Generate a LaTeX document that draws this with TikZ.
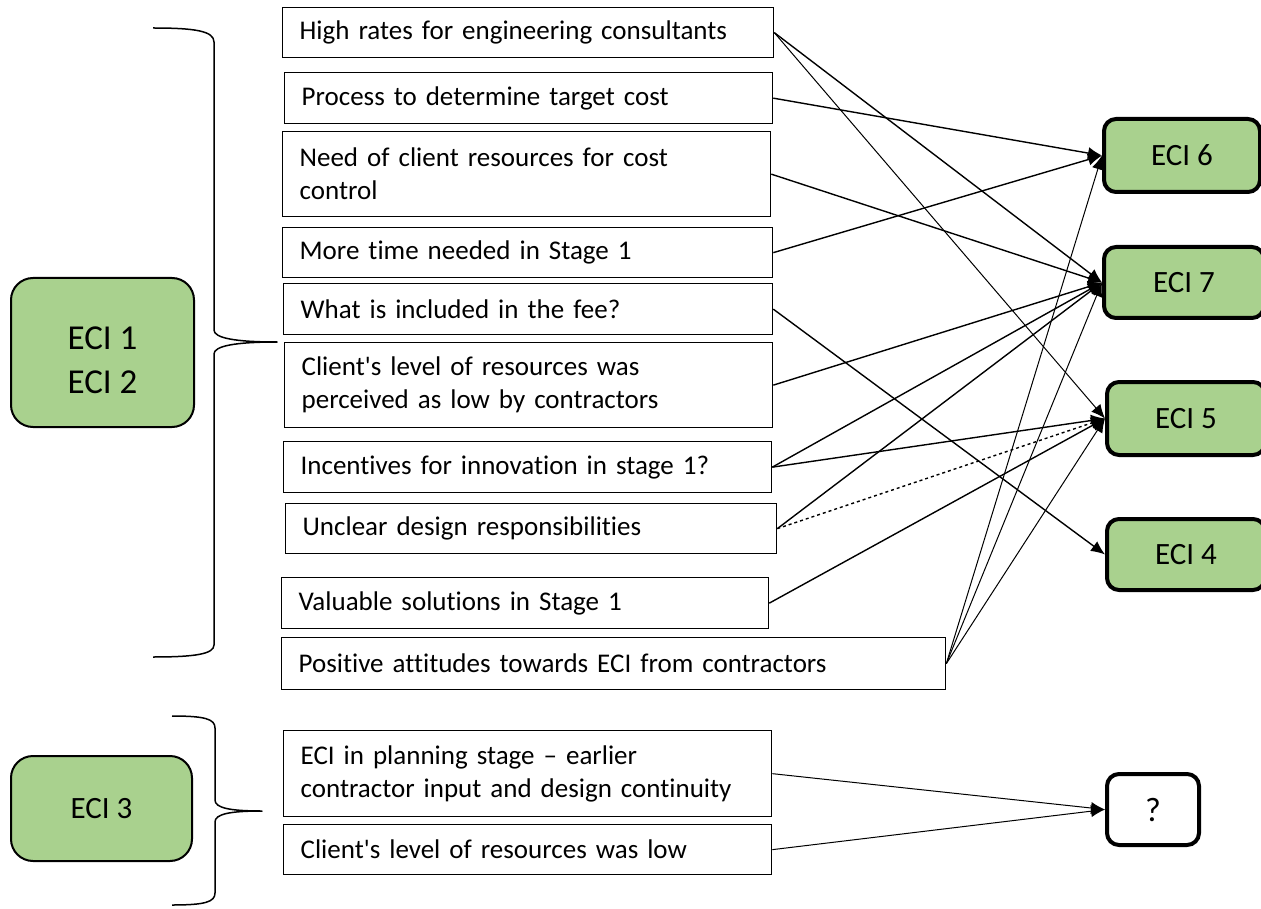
\documentclass[tikz,border=0pt]{standalone}
\usepackage{fontspec}
\setmainfont{Carlito}[Ligatures={TeX,NoCommon}]
\usetikzlibrary{arrows.meta}
\definecolor{ecigreen}{RGB}{169,209,142}
\newcommand\septi{t\kern0pt i}
\tikzset{
  cause/.style={draw,line width=1.3pt,rectangle,anchor=north west,align=left,inner xsep=17pt,inner ysep=0pt,font=\fontsize{27}{33}\selectfont},
  eci/.style={draw,line width=4pt,rounded corners=12pt,fill=ecigreen,anchor=north west,inner sep=0pt,font=\fontsize{31}{38}\selectfont},
  phase/.style={draw,line width=2pt,rounded corners=22pt,fill=ecigreen,anchor=north west,inner sep=0pt,align=center},
  link/.style={->,line width=1.4pt},
  thinlink/.style={->,line width=1pt},
  brace/.style={line width=1.5pt,line join=round}
}

\begin{document}
\begin{tikzpicture}[>={Latex[length=14pt,width=12pt]},x=1pt,y=-1pt]
\useasboundingbox (0,0) rectangle (1261,909);
\node[phase,minimum width=183pt,minimum height=149pt,font=\fontsize{35}{44}\selectfont] (eci12) at (10,277) {\rule{0pt}{38pt}ECI 1\\ECI 2};
\node[phase,minimum width=181pt,minimum height=105pt,font=\fontsize{31}{38}\selectfont] (eci3) at (10,755) {ECI 3};
\draw[brace] (153,28) .. controls (195,28) and (214,31) .. (214,42) -- (214,330) .. controls (214,338) and (235,342) .. (277,342) .. controls (235,342) and (214,346) .. (214,354) -- (214,645) .. controls (214,654) and (195,657) .. (153,657);
\draw[brace] (172,716) .. controls (205,716) and (215,719) .. (215,728) -- (215,800) .. controls (215,808) and (230,811) .. (262,811) .. controls (230,811) and (215,814) .. (215,822) -- (215,893) .. controls (215,902) and (205,905) .. (172,905);
\node[cause,text width=457pt,minimum height=50pt] (rates) at (282,7) {High rates for engineering consultants};
\node[cause,text width=454pt,minimum height=51pt] (target) at (284,72) {Process to determine target cost};
\node[cause,text width=454pt,minimum height=85pt] (needres) at (282,131) {Need of client resources for cost\\control};
\node[cause,text width=456pt,minimum height=50pt] (moretime) at (282,227) {More \septi me needed in Stage 1};
\node[cause,text width=455pt,minimum height=51pt] (fee) at (283,283) {What is included in the fee?};
\node[cause,text width=454pt,minimum height=85pt] (lowres) at (284,342) {Client\textquotesingle s level of resources was\\perceived as low by contractors};
\node[cause,text width=454pt,minimum height=51pt] (incent) at (283,441) {Incen\septi ves for innovation in stage 1?};
\node[cause,text width=457pt,minimum height=50pt] (unclear) at (285,503) {Unclear design responsibili\septi es};
\node[cause,text width=453pt,minimum height=51pt] (valuable) at (281,577) {Valuable solu\septi ons in Stage 1};
\node[cause,text width=630pt,minimum height=52pt] (attitude) at (281,637) {Posi\septi ve at\septi tudes towards ECI from contractors};
\node[cause,text width=454pt,minimum height=86pt] (planning) at (283,730) {ECI in planning stage -- earlier\\contractor input and design con\septi nuity};
\node[cause,text width=454pt,minimum height=50pt] (lowlevel) at (283,824) {Client\textquotesingle s level of resources was low};
\node[eci,minimum width=156pt,minimum height=73pt] (eci6) at (1102,117) {ECI 6};
\node[eci,minimum width=160pt,minimum height=71pt] (eci7) at (1102,245) {ECI 7};
\node[eci,minimum width=158pt,minimum height=73pt] (eci5) at (1105,380) {ECI 5};
\node[eci,minimum width=158pt,minimum height=71pt] (eci4) at (1105,517) {ECI 4};
\node[eci,fill=white,minimum width=92pt,minimum height=71pt,font=\fontsize{34}{40}\selectfont] (unknown) at (1105,772) {?};
\draw[link] (rates.east) -- (eci7.west);
\draw[thinlink] (rates.east) -- (eci5.west);
\draw[link] (target.east) -- (eci6.west);
\draw[link] (needres.east) -- (eci7.west);
\draw[link] (moretime.east) -- (eci6.west);
\draw[link] (fee.east) -- (eci4.west);
\draw[link] (lowres.east) -- (eci7.west);
\draw[link] (incent.east) -- (eci7.west);
\draw[link] (incent.east) -- (eci5.west);
\draw[link] (unclear.east) -- (eci7.west);
\draw[link,dashed] (unclear.east) -- (eci5.west);
\draw[link] (valuable.east) -- (eci5.west);
\draw[thinlink] (attitude.east) -- (eci6.west);
\draw[thinlink] (attitude.east) -- (eci7.west);
\draw[thinlink] (attitude.east) -- (eci5.west);
\draw[thinlink] (planning.east) -- (unknown.west);
\draw[thinlink] (lowlevel.east) -- (unknown.west);
\end{tikzpicture}
\end{document}
